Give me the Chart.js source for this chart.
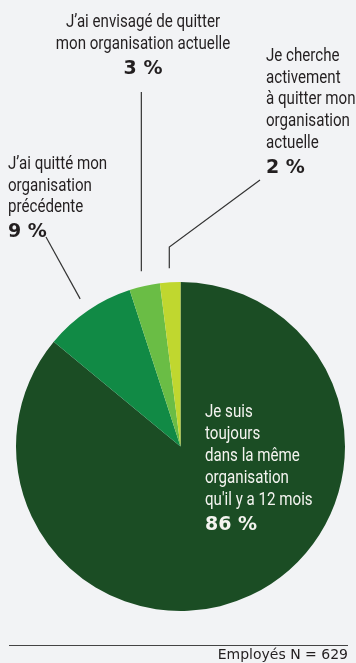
<!DOCTYPE html>
<html>
<head>
  <meta charset="UTF-8">
  <title>Mobilité des employés</title>
  <script src="https://cdn.jsdelivr.net/npm/chart.js"></script>
  <style>
    html, body {
      margin: 0;
      padding: 0;
      background: #f2f3f5;
    }
    #wrap {
      position: relative;
      width: 356px;
      height: 663px;
    }
  </style>
</head>
<body>
<div id="wrap">
  <canvas id="chart" width="356" height="663"></canvas>
</div>

<script>
  // Categories (each label split into the lines shown on the chart)
  const labels = [
    ['Je suis', 'toujours', 'dans la même', 'organisation', "qu'il y a 12 mois"],
    ['J’ai quitté mon', 'organisation', 'précédente'],
    ['J’ai envisagé de quitter', 'mon organisation actuelle'],
    ['Je cherche', 'activement', 'à quitter mon', 'organisation', 'actuelle']
  ];
  const values = [86, 9, 3, 2];
  const colors = ['#1b4d24', '#118a45', '#6abd45', '#c0d72f'];
  const footnote = 'Employés N = 629';

  const textFont = '18px Roboto, "Noto Sans", sans-serif';
  const squeeze = 0.84; // the original uses a condensed face
  const boldFont = 'bold 19px "DejaVu Sans", sans-serif';

  // where each label block goes (first baseline) and how its leader line runs
  const labelLayout = [
    { x: 205, y: 417, step: 22, align: 'left', color: '#f4f4f0' },
    { x: 8, y: 169, step: 21.5, align: 'left', color: '#231f20', lineFrom: [46, 237], gap: 14 },
    { x: 143, y: 27, step: 22, align: 'center', color: '#231f20', lineTop: 92, gap: 15 },
    { x: 266, y: 61, step: 21.7, align: 'left', color: '#231f20', elbow: [260, 180], elbowY: 247, gap: 14 }
  ];

  function drawText(ctx, txt, x, y, sx) {
    ctx.save();
    ctx.translate(x, y);
    ctx.scale(sx, 1);
    ctx.fillText(txt, 0, 0);
    ctx.restore();
  }

  const labelPlugin = {
    id: 'labelPlugin',
    afterDraw(chart) {
      const ctx = chart.ctx;
      const arcs = chart.getDatasetMeta(0).data;
      ctx.save();

      arcs.forEach((arc, i) => {
        const lay = labelLayout[i];
        const p = arc.getProps(['x', 'y', 'startAngle', 'endAngle', 'outerRadius'], true);
        const mid = (p.startAngle + p.endAngle) / 2;
        const ox = p.x + Math.cos(mid) * (p.outerRadius + (lay.gap || 0));
        const oy = p.y + Math.sin(mid) * (p.outerRadius + (lay.gap || 0));

        // leader lines
        ctx.strokeStyle = '#333333';
        ctx.lineWidth = 1.2;
        if (lay.lineFrom) {
          ctx.beginPath();
          ctx.moveTo(lay.lineFrom[0], lay.lineFrom[1]);
          ctx.lineTo(ox, oy);
          ctx.stroke();
        } else if (lay.lineTop) {
          ctx.beginPath();
          ctx.moveTo(ox, lay.lineTop);
          ctx.lineTo(ox, oy);
          ctx.stroke();
        } else if (lay.elbow) {
          ctx.beginPath();
          ctx.moveTo(lay.elbow[0], lay.elbow[1]);
          ctx.lineTo(ox, lay.elbowY);
          ctx.lineTo(ox, oy);
          ctx.stroke();
        }

        // label text
        ctx.fillStyle = lay.color;
        ctx.textAlign = lay.align;
        ctx.textBaseline = 'alphabetic';
        ctx.font = textFont;
        let y = lay.y;
        labels[i].forEach(line => {
          drawText(ctx, line, lay.x, y, squeeze);
          y += lay.step;
        });
        ctx.font = boldFont;
        ctx.fillText(values[i] + ' %', lay.x, y + 3);
      });

      // footnote rule and text
      ctx.strokeStyle = '#444444';
      ctx.lineWidth = 1;
      ctx.beginPath();
      ctx.moveTo(9, 645.5);
      ctx.lineTo(348, 645.5);
      ctx.stroke();
      ctx.fillStyle = '#231f20';
      ctx.textAlign = 'right';
      ctx.textBaseline = 'alphabetic';
      ctx.font = '14px "DejaVu Sans", sans-serif';
      ctx.fillText(footnote, 348, 659);

      ctx.restore();
    }
  };

  new Chart(document.getElementById('chart'), {
    type: 'pie',
    data: {
      labels: labels.map(l => l.join(' ')),
      datasets: [{
        data: values,
        backgroundColor: colors,
        borderWidth: 0
      }]
    },
    options: {
      responsive: false,
      animation: false,
      layout: {
        padding: { left: 16, right: 11, top: 282, bottom: 52 }
      },
      plugins: {
        legend: { display: false },
        tooltip: { enabled: false }
      }
    },
    plugins: [labelPlugin]
  });
</script>
</body>
</html>
